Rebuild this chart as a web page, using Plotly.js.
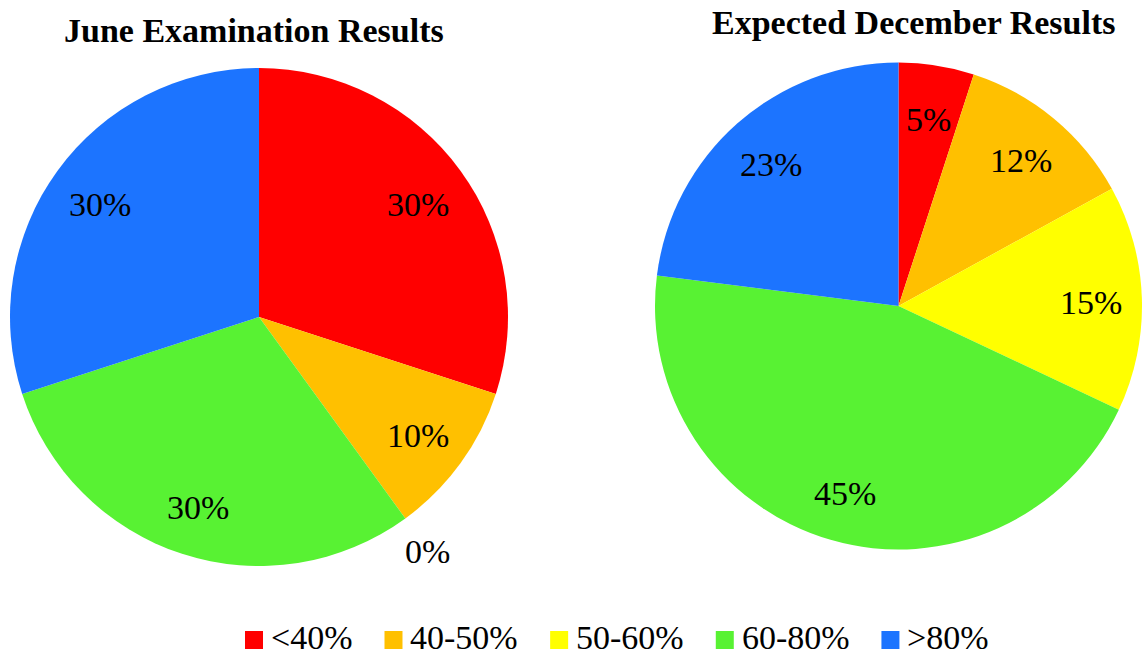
<!DOCTYPE html>
<html>
<head>
<meta charset="utf-8">
<script src="https://cdn.plot.ly/plotly-3.0.1.min.js"></script>
<style>
  html, body { margin: 0; padding: 0; background: #fff; }
  #chart { width: 1142px; height: 658px; }
</style>
</head>
<body>
<div id="chart"></div>
<script>
// Score bands shared by both pies
const categories = ['<40%', '40-50%', '50-60%', '60-80%', '>80%'];
// Share of students in each band
const juneValues = [30, 10, 0, 30, 30];
const decemberValues = [5, 12, 15, 45, 23];
const chartTitles = ['June Examination Results', 'Expected December Results'];

const sliceColors = ['#FF0000', '#FFC000', '#FFFF00', '#58F233', '#1C74FF'];

const W = 1142, H = 658;
const serif = 'Liberation Serif, Times New Roman, serif';
const textSize = 34;

// Pie placement on the page (paper fractions)
const leftDomain = { x: [10 / W, 508 / W], y: [1 - 566 / H, 1 - 68 / H] };
const rightDomain = { x: [655 / W, 1], y: [1 - 549.5 / H, 1 - 62.5 / H] };

function pieTrace(values, domain) {
  return {
    type: 'pie',
    labels: categories,
    values: values,
    domain: domain,
    sort: false,
    direction: 'clockwise',
    rotation: 0,
    textinfo: 'none',
    showlegend: false,
    marker: { colors: sliceColors, line: { width: 0 } },
    hovertemplate: '%{label}: %{percent}<extra></extra>'
  };
}

// Percentage labels placed at the middle angle of each slice
function sliceLabels(values, domain) {
  const cx = (domain.x[0] + domain.x[1]) / 2 * W;
  const cy = (1 - (domain.y[0] + domain.y[1]) / 2) * H;
  const r = Math.min((domain.x[1] - domain.x[0]) * W, (domain.y[1] - domain.y[0]) * H) / 2;
  const total = values.reduce((a, b) => a + b, 0);
  let cum = 0;
  return values.map(v => {
    const mid = (cum + v / 2) / total * 2 * Math.PI;
    cum += v;
    const dist = v === 0 ? 1.15 * r : 0.79 * r;
    const px = cx + dist * Math.sin(mid);
    const py = cy - dist * Math.cos(mid) + 3;
    return {
      xref: 'paper', yref: 'paper',
      x: px / W, y: 1 - py / H,
      xanchor: 'center', yanchor: 'middle',
      text: Math.round(v / total * 100) + '%',
      showarrow: false,
      font: { family: serif, size: textSize, color: '#000' }
    };
  });
}

const titleAnnotations = [
  { x: 254 / W, y: 1 - 30 / H, text: '<b>' + chartTitles[0] + '</b>' },
  { x: 914 / W, y: 1 - 23 / H, text: '<b>' + chartTitles[1] + '</b>' }
].map(a => Object.assign({
  xref: 'paper', yref: 'paper', xanchor: 'center', yanchor: 'middle',
  showarrow: false, font: { family: serif, size: textSize, color: '#000' }
}, a));

// Legend row: colour square, label, then a gap before the next entry
const ctx = document.createElement('canvas').getContext('2d');
ctx.font = textSize + 'px ' + serif;
const legendShapes = [];
const legendLabels = [];
const swatch = 18, swatchGap = 7, entryGap = 33, legendY = 637;
let lx = 245;
categories.forEach((cat, i) => {
  legendShapes.push({
    type: 'rect', xref: 'paper', yref: 'paper',
    x0: lx / W, x1: (lx + swatch) / W,
    y0: 1 - (legendY + 3 + swatch / 2) / H, y1: 1 - (legendY + 3 - swatch / 2) / H,
    fillcolor: sliceColors[i], line: { width: 0 }
  });
  const tx = lx + swatch + swatchGap;
  legendLabels.push({
    xref: 'paper', yref: 'paper',
    x: (tx - 1) / W, y: 1 - legendY / H,
    xanchor: 'left', yanchor: 'middle',
    text: cat.replace('<', '&lt;').replace('>', '&gt;'),
    showarrow: false,
    font: { family: serif, size: textSize, color: '#000' }
  });
  lx = tx + ctx.measureText(cat).width + entryGap;
});

const data = [pieTrace(juneValues, leftDomain), pieTrace(decemberValues, rightDomain)];

const layout = {
  width: W, height: H,
  margin: { l: 0, r: 0, t: 0, b: 0 },
  paper_bgcolor: '#fff',
  showlegend: false,
  shapes: legendShapes,
  annotations: titleAnnotations
    .concat(sliceLabels(juneValues, leftDomain))
    .concat(sliceLabels(decemberValues, rightDomain))
    .concat(legendLabels)
};

Plotly.newPlot('chart', data, layout, { displayModeBar: false });
</script>
</body>
</html>
